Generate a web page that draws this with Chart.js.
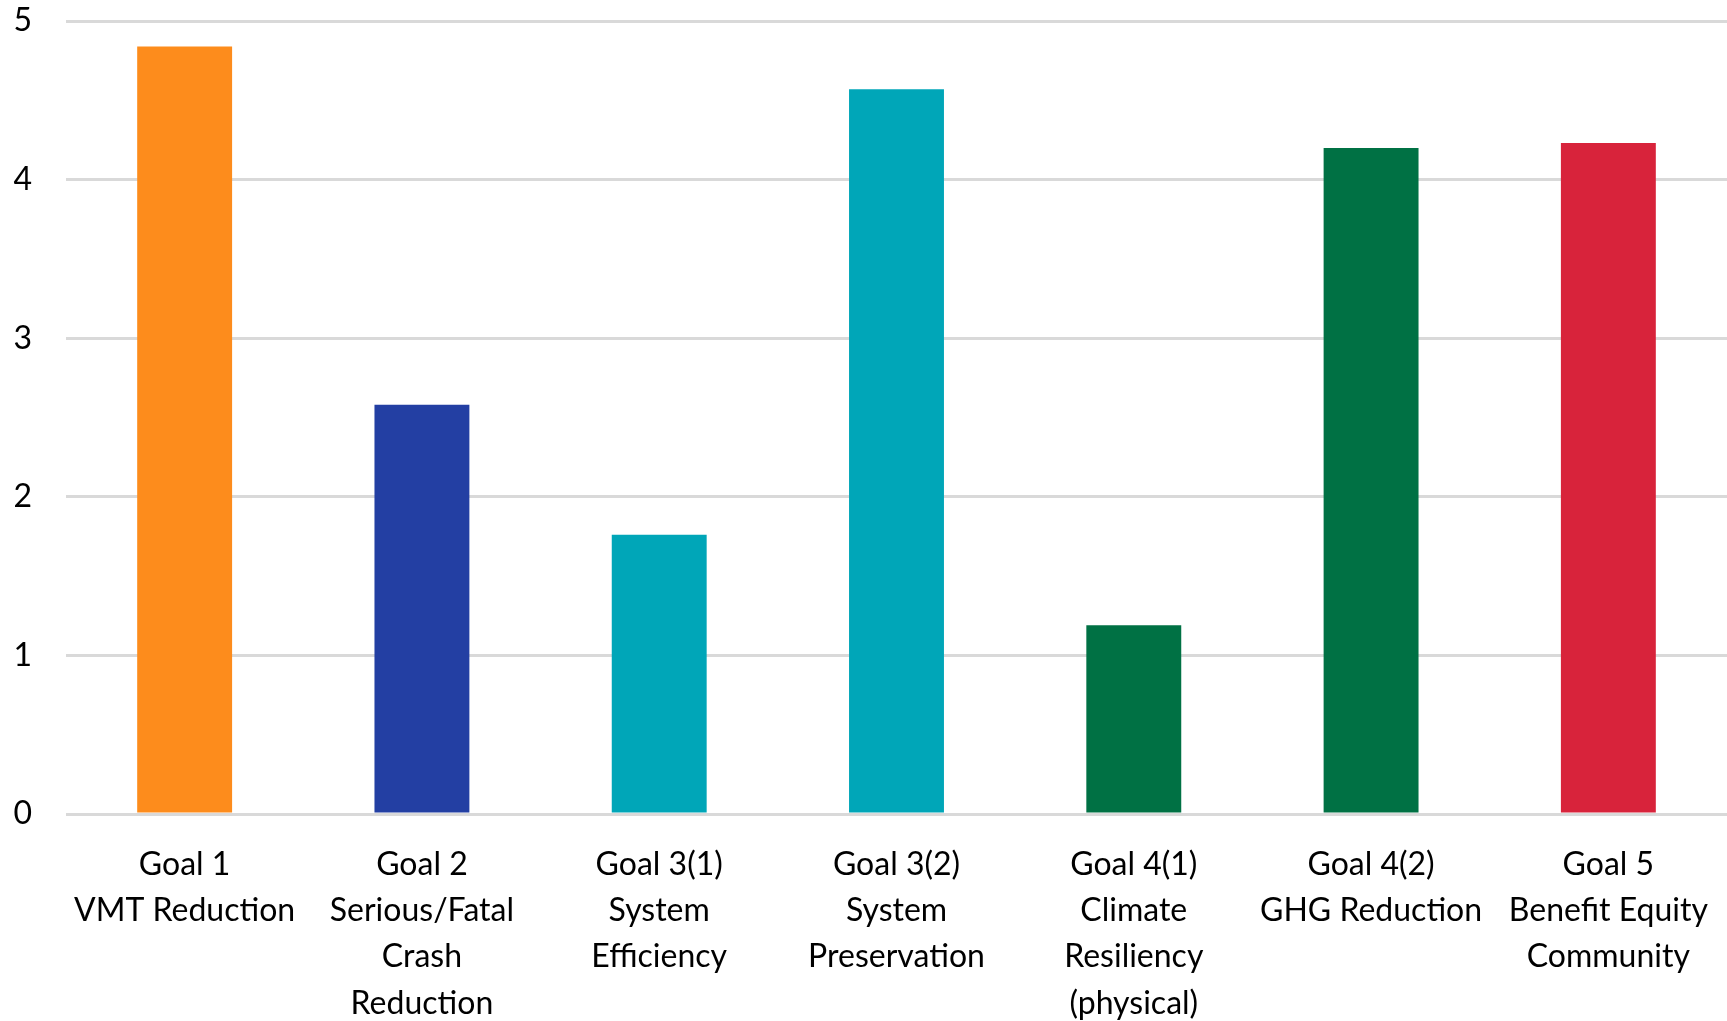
<!DOCTYPE html>
<html>
<head>
<meta charset="utf-8">
<script src="https://cdn.jsdelivr.net/npm/chart.js@4"></script>
<style>
  html, body { margin: 0; padding: 0; background: #fff; }
  #wrap { width: 1727px; height: 1021px; }
</style>
</head>
<body>
<div id="wrap"><canvas id="myChart"></canvas></div>
<script>
const categories = [
  ['Goal 1', 'VMT Reduction'],
  ['Goal 2', 'Serious/Fatal', 'Crash', 'Reduction'],
  ['Goal 3(1)', 'System', 'Efficiency'],
  ['Goal 3(2)', 'System', 'Preservation'],
  ['Goal 4(1)', 'Climate', 'Resiliency', '(physical)'],
  ['Goal 4(2)', 'GHG Reduction'],
  ['Goal 5', 'Benefit Equity', 'Community']
];
const scores = [4.84, 2.58, 1.76, 4.57, 1.19, 4.20, 4.23];
const barColors = ['#fd8c1c', '#233fa3', '#00a6b8', '#00a6b8', '#007144', '#007144', '#d8233b'];
const yTicks = [0, 1, 2, 3, 4, 5];

const ctx = document.getElementById('myChart').getContext('2d');
new Chart(ctx, {
  type: 'bar',
  data: {
    labels: categories,
    datasets: [{
      data: scores,
      backgroundColor: barColors,
      borderWidth: 0,
      barPercentage: 0.4,
      categoryPercentage: 1
    }]
  },
  options: {
    responsive: true,
    maintainAspectRatio: false,
    animation: false,
    layout: { padding: 0 },
    plugins: {
      legend: { display: false },
      tooltip: { enabled: false }
    },
    scales: {
      x: {
        afterFit: (axis) => {
          axis.height = 207;
          axis.paddingLeft = 0;
          axis.paddingRight = 0;
        },
        grid: { display: false, drawTicks: false },
        border: { display: false },
        ticks: {
          color: '#000',
          padding: 27,
          maxRotation: 0,
          autoSkip: false,
          font: { family: 'Lato', size: 32, lineHeight: 1.45 }
        }
      },
      y: {
        min: 0,
        max: 5,
        afterFit: (axis) => {
          axis.width = 66;
          axis.paddingTop = 21;
          axis.paddingBottom = 0;
        },
        afterBuildTicks: (axis) => { axis.ticks = yTicks.map(v => ({ value: v })); },
        grid: { color: '#d9d9d9', lineWidth: 3, drawTicks: false },
        border: { display: false },
        ticks: {
          color: '#000',
          padding: 34,
          font: { family: 'Lato', size: 32 }
        }
      }
    }
  }
});
</script>
</body>
</html>
